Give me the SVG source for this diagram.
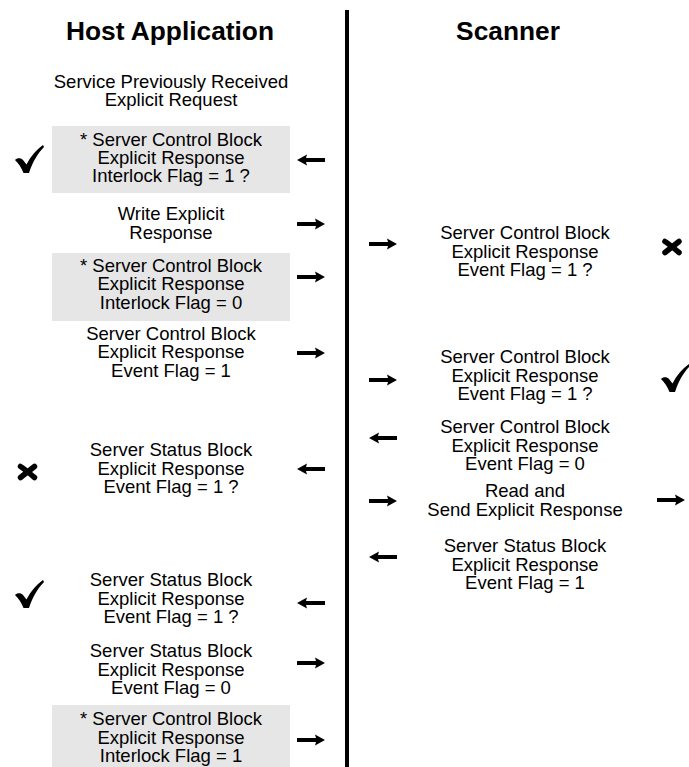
<svg xmlns="http://www.w3.org/2000/svg" xmlns:xlink="http://www.w3.org/1999/xlink" width="689" height="767" viewBox="0 0 689 767">
<style>
text{font-family:"Liberation Sans",Arial,sans-serif;fill:#000;text-anchor:middle}
.t{font-size:26.3px;font-weight:bold}
.b{font-size:18.5px}
.box{fill:#e6e6e6}
.icon{fill:#000}
</style>
<defs>
<path id="ar" d="M0,-2 L19,-2 L18,-5.5 L28,0 L18,5.5 L19,2 L0,2 Z"/>
<path id="al" d="M0,-2 L-19,-2 L-18,-5.5 L-28,0 L-18,5.5 L-19,2 L0,2 Z"/>
<path id="chk" d="M0,15 C2,12.5 6,12.5 8,15 L11.5,19.5 C16,11 21,5 28,0 L29,2 C23,8 17.5,17 14,28 L8.5,28 C6.5,22.5 3.5,18.5 0,15 Z"/>
<g id="xm"><path d="M3,3 C8,6 12,10 17,14 M17,3 C12,7 8,10 3,14" stroke="#000" stroke-width="5.5" stroke-linecap="round" fill="none"/></g>
</defs>
<rect id="divider" x="345" y="10" width="4" height="757" fill="#000"/>
<g id="headers">
<text class="t" x="170" y="40">Host Application</text>
<text class="t" x="508" y="40">Scanner</text>
</g>
<g id="h1"><text class="b" x="171" y="87.5">Service Previously Received</text><text class="b" x="171" y="106">Explicit Request</text></g>
<g id="h2"><rect class="box" x="52" y="126" width="238" height="67"/><text class="b" x="171" y="146">* Server Control Block</text><text class="b" x="171" y="164">Explicit Response</text><text class="b" x="171" y="182">Interlock Flag = 1 ?</text></g>
<g id="h3"><text class="b" x="171" y="220">Write Explicit</text><text class="b" x="171" y="238.5">Response</text></g>
<g id="h4"><rect class="box" x="52" y="253" width="238" height="68"/><text class="b" x="171" y="272">* Server Control Block</text><text class="b" x="171" y="290">Explicit Response</text><text class="b" x="171" y="308.5">Interlock Flag = 0</text></g>
<g id="h5"><text class="b" x="171" y="339.5">Server Control Block</text><text class="b" x="171" y="358">Explicit Response</text><text class="b" x="171" y="376.5">Event Flag = 1</text></g>
<g id="h6"><text class="b" x="171" y="456">Server Status Block</text><text class="b" x="171" y="474.5">Explicit Response</text><text class="b" x="171" y="493">Event Flag = 1 ?</text></g>
<g id="h7"><text class="b" x="171" y="586">Server Status Block</text><text class="b" x="171" y="604.5">Explicit Response</text><text class="b" x="171" y="623">Event Flag = 1 ?</text></g>
<g id="h8"><text class="b" x="171" y="657">Server Status Block</text><text class="b" x="171" y="675.5">Explicit Response</text><text class="b" x="171" y="694">Event Flag = 0</text></g>
<g id="h9"><rect class="box" x="52" y="705" width="238" height="62"/><text class="b" x="171" y="725">* Server Control Block</text><text class="b" x="171" y="743.5">Explicit Response</text><text class="b" x="171" y="762">Interlock Flag = 1</text></g>
<g id="s1"><text class="b" x="525" y="239">Server Control Block</text><text class="b" x="525" y="257.5">Explicit Response</text><text class="b" x="525" y="276">Event Flag = 1 ?</text></g>
<g id="s2"><text class="b" x="525" y="363">Server Control Block</text><text class="b" x="525" y="381.5">Explicit Response</text><text class="b" x="525" y="400">Event Flag = 1 ?</text></g>
<g id="s3"><text class="b" x="525" y="433">Server Control Block</text><text class="b" x="525" y="451.5">Explicit Response</text><text class="b" x="525" y="470">Event Flag = 0</text></g>
<g id="s4"><text class="b" x="525" y="497">Read and</text><text class="b" x="525" y="515.5">Send Explicit Response</text></g>
<g id="s5"><text class="b" x="525" y="552">Server Status Block</text><text class="b" x="525" y="570.5">Explicit Response</text><text class="b" x="525" y="589">Event Flag = 1</text></g>
<g id="icons" class="icon">
<use xlink:href="#chk" x="15" y="145"/>
<use xlink:href="#xm" x="17.5" y="463.5"/>
<use xlink:href="#chk" x="15" y="580"/>
<use xlink:href="#xm" x="662" y="238.5"/>
<use xlink:href="#chk" x="661" y="364"/>
</g>
<g id="connectors" class="icon">
<use xlink:href="#al" x="325" y="160"/>
<use xlink:href="#ar" x="297" y="224"/>
<use xlink:href="#ar" x="297" y="277"/>
<use xlink:href="#ar" x="297" y="353"/>
<use xlink:href="#al" x="325" y="469"/>
<use xlink:href="#al" x="325" y="603"/>
<use xlink:href="#ar" x="297" y="663"/>
<use xlink:href="#ar" x="297" y="740"/>
<use xlink:href="#ar" x="369" y="244"/>
<use xlink:href="#ar" x="369" y="380"/>
<use xlink:href="#al" x="397" y="438"/>
<use xlink:href="#ar" x="369" y="501"/>
<use xlink:href="#al" x="397" y="557"/>
<use xlink:href="#ar" x="657" y="500"/>
</g>
</svg>
